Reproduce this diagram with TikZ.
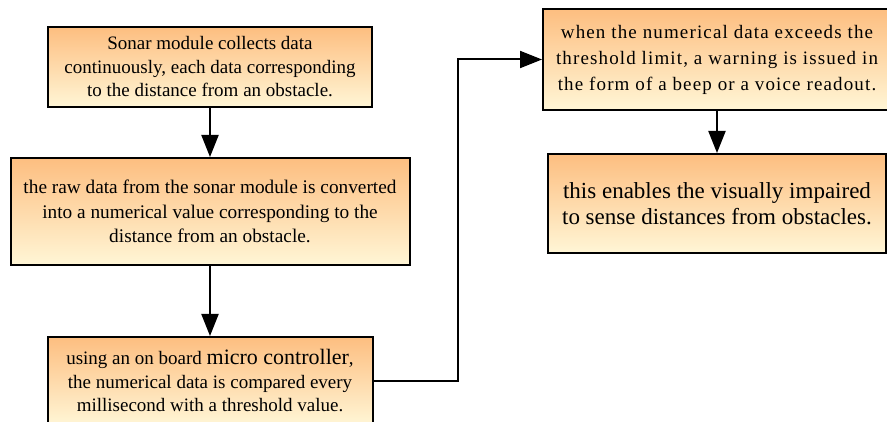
\documentclass[tikz,border=0pt]{standalone}
\usepackage{fontspec}
\setmainfont{Liberation Serif}
\usetikzlibrary{arrows.meta}
\definecolor{boxtop}{RGB}{253,190,128}
\definecolor{boxbot}{RGB}{255,246,214}
\begin{document}
\begin{tikzpicture}[x=1pt,y=-1pt,
  flowbox/.style={draw=black, line width=2pt, top color=boxtop, bottom color=boxbot,
    align=center, inner sep=0pt, font=\rmfamily\fontsize{19}{23.5}\selectfont},
  conn/.style={line width=2pt, -{Triangle[length=22pt,width=17pt]}}]
\useasboundingbox (0,0) rectangle (887,422);
\node[flowbox, minimum width=324pt, minimum height=80pt] (b1) at (210,67)
  {Sonar module collects data\\continuously, each data corresponding\\to the distance from an obstacle.};
\node[flowbox, minimum width=399pt, minimum height=107pt, font=\rmfamily\fontsize{19.3}{24.5}\selectfont] (b2) at (210,211.5)
  {the raw data from the sonar module is converted\\into a numerical value corresponding to the\\distance from an obstacle.};
\node[flowbox, minimum width=325pt, minimum height=88pt] (b3) at (210,381)
  {using an on board {\fontsize{22}{23.5}\selectfont micro controller},\\the numerical data is compared every\\millisecond with a threshold value.};
\node[flowbox, minimum width=348pt, minimum height=101pt, font=\rmfamily\fontsize{19}{26}\selectfont\addfontfeature{LetterSpace=6}] (b4) at (717,59.5)
  {\rule{0pt}{5pt}when the numerical data exceeds the\\threshold limit, a warning is issued in\\the form of a beep or a voice readout.};
\node[flowbox, minimum width=338pt, minimum height=99pt, font=\rmfamily\fontsize{23}{26}\selectfont] (b5) at (717,203.5)
  {this enables the visually impaired\\to sense distances from obstacles.};
\coordinate (bend) at (458,381);
\draw[conn] (b1) -- (b2);
\draw[conn] (b2) -- (b3);
\draw[conn] (b3.east) -- (bend) |- (b4.west);
\draw[conn] (b4) -- (b5);
\end{tikzpicture}
\end{document}
